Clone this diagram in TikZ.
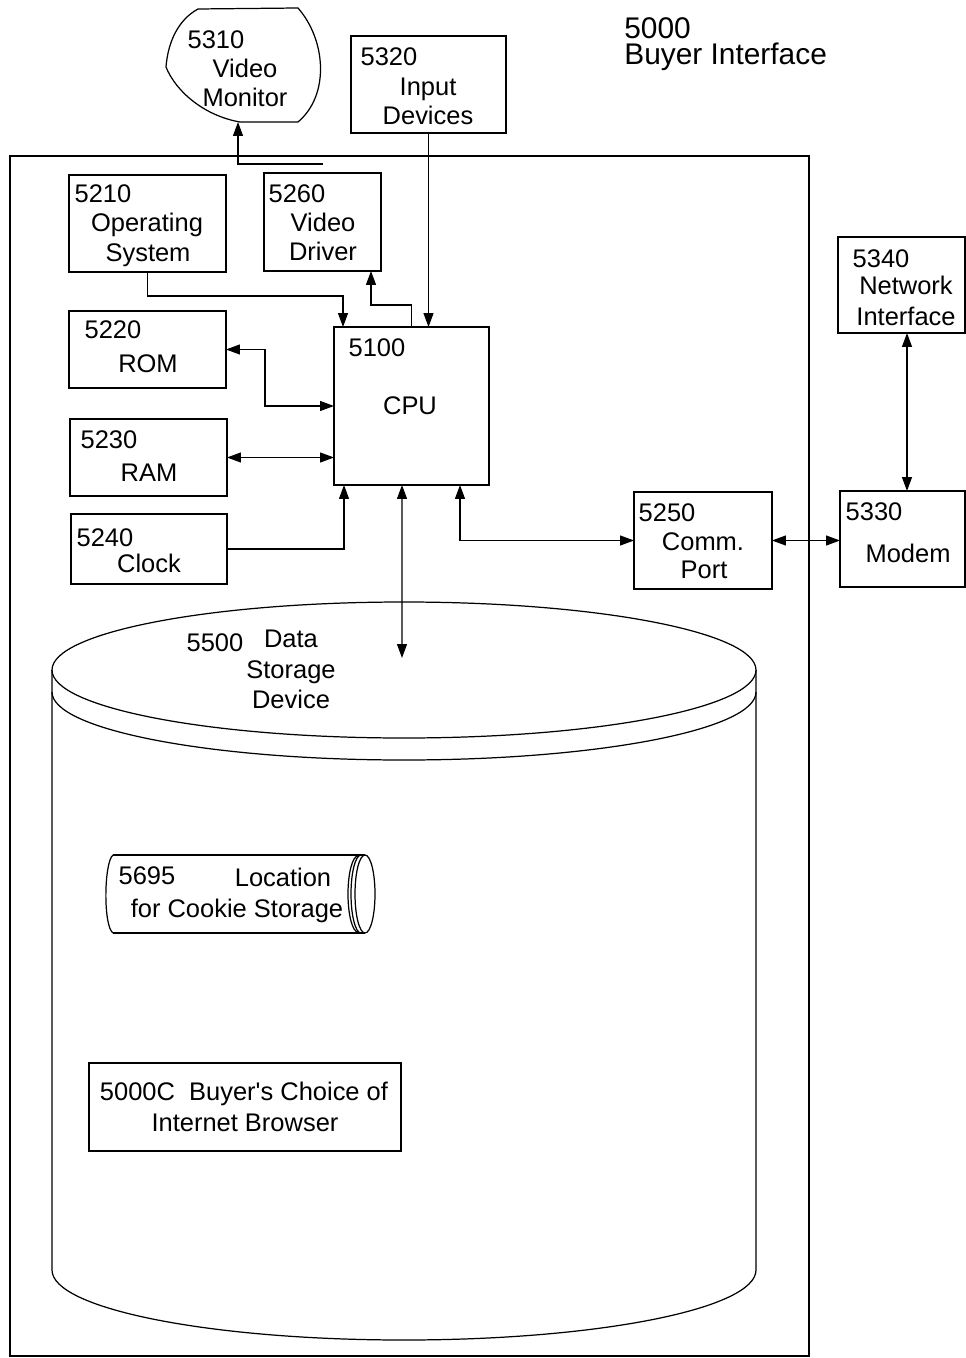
\documentclass[tikz,border=0pt]{standalone}
\usepackage{fontspec}
\setmainfont{Liberation Sans}
\usetikzlibrary{arrows.meta}

\begin{document}
\begin{tikzpicture}[x=0.02cm, y=-0.02cm,
    box/.style={draw, line width=0.7pt, inner sep=0pt, outer sep=0pt},
    txt/.style={inner sep=0pt, text height=10.4pt, text depth=0pt, font=\fontsize{14.5}{17}\selectfont},
    ttl/.style={inner sep=0pt, align=left, font=\fontsize{17}{14.7}\selectfont},
    link/.style={line width=0.7pt},
    arr/.style={link, -{Triangle[length=0.28cm, width=0.2cm]}},
    biarr/.style={link, {Triangle[length=0.28cm, width=0.2cm]}-{Triangle[length=0.28cm, width=0.2cm]}}]

    \useasboundingbox (0,0) rectangle (966,1358);

    \node[ttl, anchor=north west] (title) at (624,17) {5000\\Buyer Interface};

    \draw[line width=1.4pt] (10,156) rectangle (809,1356);

    % devices outside the frame
    \draw[link] (298,8) .. controls (326,40) and (330,95) .. (298,122) -- (240,122)
        .. controls (205,116) and (176,92) .. (166,67)
        .. controls (168,42) and (178,20) .. (198,9) -- cycle;
    \coordinate (monitor) at (238,122);
    \node[txt] (monitor-id) at (216,39) {5310};
    \node[txt] (monitor-a) at (245,68) {Video};
    \node[txt] (monitor-b) at (245,97) {Monitor};

    \node[box, minimum width=3.1cm, minimum height=1.94cm] (input) at (428.5,84.5) {};
    \node[txt] (input-id) at (389,56) {5320};
    \node[txt] (input-a) at (428,86) {Input};
    \node[txt] (input-b) at (428,115) {Devices};

    \node[box, minimum width=2.54cm, minimum height=1.92cm] (net) at (901.5,285) {};
    \node[txt] (net-id) at (881,258) {5340};
    \node[txt] (net-a) at (906,285) {Network};
    \node[txt] (net-b) at (906,316) {Interface};

    \node[box, minimum width=2.5cm, minimum height=1.92cm] (modem) at (902.5,539) {};
    \node[txt] (modem-id) at (874,511) {5330};
    \node[txt] (modem-a) at (908,553) {Modem};

    % parts inside the frame
    \node[box, minimum width=3.14cm, minimum height=1.94cm] (os) at (147.5,223.5) {};
    \node[txt] (os-id) at (103,193) {5210};
    \node[txt] (os-a) at (147,222) {Operating};
    \node[txt] (os-b) at (148,252) {System};

    \node[box, minimum width=2.34cm, minimum height=1.96cm] (vdrv) at (322.5,222) {};
    \node[txt] (vdrv-id) at (297,193) {5260};
    \node[txt] (vdrv-a) at (323,222) {Video};
    \node[txt] (vdrv-b) at (323,251) {Driver};

    \node[box, minimum width=3.14cm, minimum height=1.54cm] (rom) at (147.5,349.5) {};
    \node[txt] (rom-id) at (113,329) {5220};
    \node[txt] (rom-a) at (148,363) {ROM};

    \node[box, minimum width=3.14cm, minimum height=1.54cm] (ram) at (148.5,457.5) {};
    \node[txt] (ram-id) at (109,439) {5230};
    \node[txt] (ram-a) at (149,472) {RAM};

    \node[box, minimum width=3.12cm, minimum height=1.4cm] (clock) at (149,549) {};
    \node[txt] (clock-id) at (105,537) {5240};
    \node[txt] (clock-a) at (149,563) {Clock};

    \node[box, minimum width=3.1cm, minimum height=3.16cm] (cpu) at (411.5,406) {};
    \node[txt] (cpu-id) at (377,347) {5100};
    \node[txt] (cpu-a) at (410,405) {CPU};

    \node[box, minimum width=2.76cm, minimum height=1.94cm] (comm) at (703,540.5) {};
    \node[txt] (comm-id) at (667,512) {5250};
    \node[txt] (comm-a) at (703,541) {Comm.};
    \node[txt] (comm-b) at (704,569) {Port};

    % data storage device
    \draw[link] (404,670) ellipse [x radius=352, y radius=68];
    \draw[link] (52,692) arc [start angle=180, end angle=0, x radius=352, y radius=68];
    \draw[link] (52,670) -- (52,1270) arc [start angle=180, end angle=0, x radius=352, y radius=70]
        -- (756,670);
    \coordinate (dsin) at (402,658);
    \node[txt] (ds-id) at (215,642) {5500};
    \node[txt] (ds-a) at (291,638) {Data};
    \node[txt] (ds-b) at (291,669) {Storage};
    \node[txt] (ds-c) at (291,699) {Device};

    \draw[link] (113,855) -- (365,855);
    \draw[link] (113,933) -- (365,933);
    \draw[link] (113,855) .. controls (104,862) and (103,926) .. (113,933);
    \draw[link] (365,894) ellipse [x radius=10, y radius=39];
    \draw[link] (361,855) arc [start angle=270, end angle=90, x radius=10, y radius=39];
    \draw[link] (358,856) arc [start angle=270, end angle=90, x radius=10, y radius=38];
    \node[txt] (cookie-id) at (147,875) {5695};
    \node[txt] (cookie-a) at (283,877) {Location};
    \node[txt] (cookie-b) at (237,908) {for Cookie Storage};

    \node[box, minimum width=6.24cm, minimum height=1.76cm] (browser) at (245,1107) {};
    \node[txt] (browser-a) at (244,1091) {5000C\ \ Buyer\textquotesingle s Choice of};
    \node[txt] (browser-b) at (245,1122) {Internet Browser};

    % connectors
    \draw[arr] ([yshift=0.18cm]vdrv.north) -| (monitor);
    \draw[arr] (input.south) -- (input.south |- cpu.north);
    \draw[arr] (os.south) -- ++(0,24) -| ([xshift=0.18cm]cpu.north west);
    \draw[arr] (cpu.north) -- ++(0,-22) -| ([xshift=-0.2cm]vdrv.south east);
    \draw[biarr] (rom.east) -- ++(39,0) |- (cpu.west);
    \draw[biarr] (ram.east) -- (ram.east -| cpu.west);
    \draw[arr] (clock.east) -| ([xshift=0.2cm]cpu.south west);
    \draw[biarr] ([xshift=-0.19cm]cpu.south) -- (dsin);
    \draw[biarr] ([xshift=0.97cm]cpu.south) |- (comm.west);
    \draw[biarr] (comm.east) -- (comm.east -| modem.west);
    \draw[biarr] ([xshift=0.11cm]net.south) -- ([xshift=0.11cm]net.south |- modem.north);
\end{tikzpicture}
\end{document}
